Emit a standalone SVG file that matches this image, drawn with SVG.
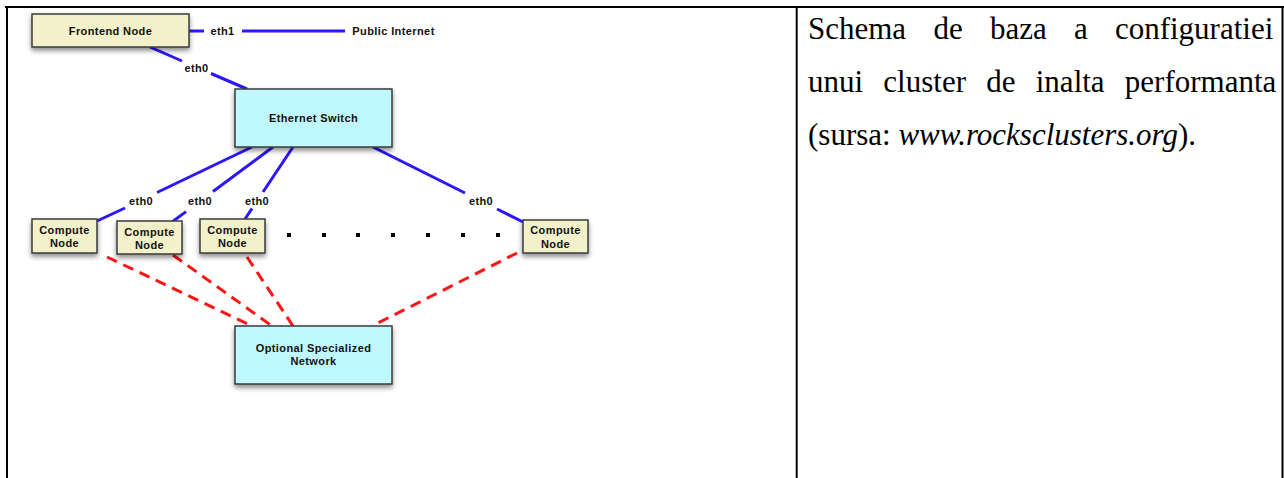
<svg xmlns="http://www.w3.org/2000/svg" width="1284" height="478" viewBox="0 0 1284 478">
<defs>
<filter id="sh" x="-20%" y="-30%" width="140%" height="170%">
<feDropShadow dx="0" dy="3" stdDeviation="2.4" flood-color="#000" flood-opacity="0.45"/>
</filter>
<style>
.yl{fill:#f2f1c9;stroke:#3a3a3a;stroke-width:1.5}
.cy{fill:#bff8fe;stroke:#3a3a3a;stroke-width:1.5}
.lb{font-family:"Liberation Sans",Arial,sans-serif;font-weight:bold;font-size:11px;letter-spacing:0.4px;fill:#111;text-anchor:middle}
.bl{stroke:#2b16ff;stroke-width:3;fill:none}
.rd{stroke:#ff1414;stroke-width:3;fill:none;stroke-dasharray:11 7}
.bd{stroke:#000;stroke-width:2;fill:none}
.tx{font-family:"Liberation Serif","Times New Roman",serif;font-size:31px;fill:#000}
.dot{fill:#000}
</style>
</defs>
<rect width="1284" height="478" fill="#fff"/>
<g id="table">
<line class="bd" x1="5" y1="7" x2="1284" y2="7"/>
<line class="bd" x1="7" y1="6" x2="7" y2="478"/>
<line class="bd" x1="796.7" y1="6" x2="796.7" y2="478"/>
<line class="bd" x1="1282.5" y1="6" x2="1282.5" y2="478"/>
</g>
<g id="connectors">
<line class="bl" x1="189" y1="31" x2="204" y2="31"/>
<line class="bl" x1="242" y1="31" x2="345" y2="31"/>
<line class="bl" x1="150" y1="47" x2="182" y2="61"/>
<line class="bl" x1="211" y1="73.5" x2="247" y2="89"/>
<line class="bl" x1="252" y1="147" x2="157" y2="192.5"/>
<line class="bl" x1="125" y1="208" x2="97" y2="221"/>
<line class="bl" x1="273" y1="147" x2="213" y2="191.5"/>
<line class="bl" x1="186" y1="211.6" x2="172" y2="222"/>
<line class="bl" x1="293" y1="147" x2="263" y2="192"/>
<line class="bl" x1="252" y1="208.5" x2="245" y2="219"/>
<line class="bl" x1="373" y1="147" x2="465" y2="193"/>
<line class="bl" x1="497" y1="209" x2="523" y2="222"/>
<line class="rd" x1="107" y1="257" x2="252" y2="326"/>
<line class="rd" x1="173" y1="255" x2="272" y2="326"/>
<line class="rd" x1="247" y1="257" x2="293" y2="326"/>
<line class="rd" x1="517" y1="253" x2="372" y2="326"/>
<text class="lb" x="222.5" y="35">eth1</text>
<text class="lb" x="393.5" y="35">Public Internet</text>
<text class="lb" x="196.5" y="72">eth0</text>
<text class="lb" x="141" y="205">eth0</text>
<text class="lb" x="200" y="205">eth0</text>
<text class="lb" x="257" y="205">eth0</text>
<text class="lb" x="481" y="205">eth0</text>
</g>
<g id="frontend">
<rect class="yl" x="32" y="14" width="157" height="33" filter="url(#sh)"/>
<text class="lb" x="110.5" y="35">Frontend Node</text>
</g>
<g id="switch">
<rect class="cy" x="235" y="89" width="157" height="58" filter="url(#sh)"/>
<text class="lb" x="313.5" y="122">Ethernet Switch</text>
</g>
<g id="compute1">
<rect class="yl" x="32" y="219" width="65" height="34" filter="url(#sh)"/>
<text class="lb" x="64.5" y="233.5">Compute</text>
<text class="lb" x="64.5" y="247">Node</text>
</g>
<g id="compute2">
<rect class="yl" x="117" y="221" width="65" height="33" filter="url(#sh)"/>
<text class="lb" x="149.5" y="235.5">Compute</text>
<text class="lb" x="149.5" y="249">Node</text>
</g>
<g id="compute3">
<rect class="yl" x="200" y="219" width="65" height="34" filter="url(#sh)"/>
<text class="lb" x="232.5" y="233.5">Compute</text>
<text class="lb" x="232.5" y="247">Node</text>
</g>
<g id="compute4">
<rect class="yl" x="523" y="220" width="65" height="33" filter="url(#sh)"/>
<text class="lb" x="555.5" y="234">Compute</text>
<text class="lb" x="555.5" y="247.5">Node</text>
</g>
<g id="dots">
<rect class="dot" x="287" y="233" width="4" height="4"/>
<rect class="dot" x="322" y="233" width="4" height="4"/>
<rect class="dot" x="356" y="233" width="4" height="4"/>
<rect class="dot" x="391" y="233" width="4" height="4"/>
<rect class="dot" x="426" y="233" width="4" height="4"/>
<rect class="dot" x="461" y="233" width="4" height="4"/>
<rect class="dot" x="496" y="233" width="4" height="4"/>
</g>
<g id="optional">
<rect class="cy" x="235" y="326" width="157" height="58" filter="url(#sh)"/>
<text class="lb" x="313.5" y="352">Optional Specialized</text>
<text class="lb" x="313.5" y="365">Network</text>
</g>
<g id="caption">
<text class="tx" x="808" y="39" word-spacing="19.5">Schema de baza a configuratiei</text>
<text class="tx" x="808" y="92" word-spacing="12.5">unui cluster de inalta performanta</text>
<text class="tx" x="808" y="145">(sursa: <tspan font-style="italic">www.rocksclusters.org</tspan>).</text>
</g>
</svg>
